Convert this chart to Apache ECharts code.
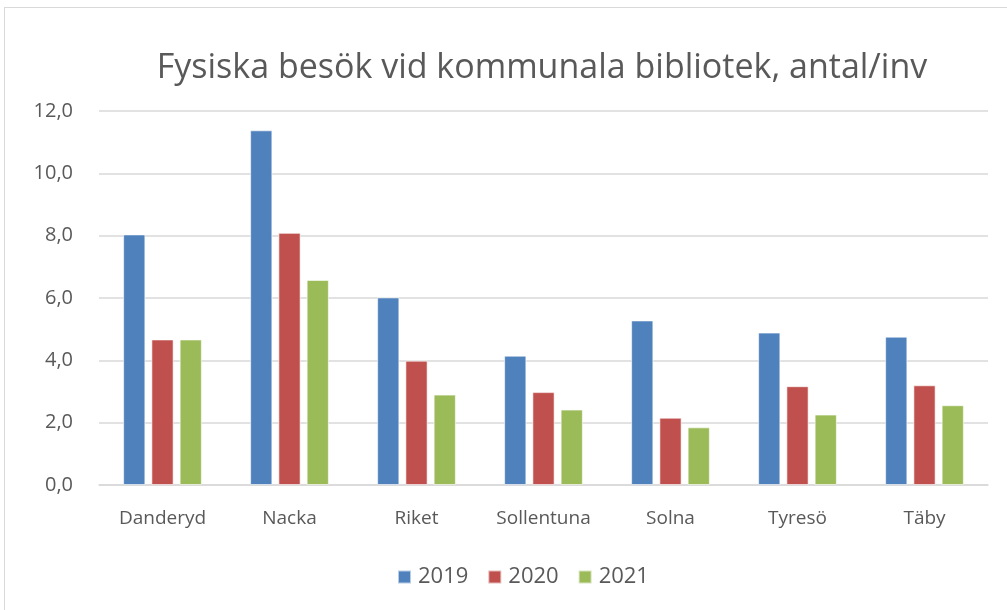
<!DOCTYPE html>
<html>
<head>
<meta charset="utf-8">
<script src="https://cdn.jsdelivr.net/npm/echarts@6/dist/echarts.min.js"></script>
<style>
  html, body { margin: 0; padding: 0; background: #fff; }
  .frame {
    position: absolute; left: 4px; top: 7px; width: 1010px; height: 610px;
    border: 1px solid #d9d9d9; box-sizing: border-box;
  }
  #chart { position: absolute; left: 0; top: 0; width: 1007px; height: 610px; }
</style>
</head>
<body>
<div class="frame"></div>
<div id="chart"></div>
<script>
const categories = ['Danderyd', 'Nacka', 'Riket', 'Sollentuna', 'Solna', 'Tyresö', 'Täby']
const values2019 = [8.04, 11.38, 6.02, 4.15, 5.28, 4.89, 4.76]
const values2020 = [4.67, 8.09, 3.99, 2.98, 2.16, 3.17, 3.20]
const values2021 = [4.67, 6.58, 2.90, 2.42, 1.85, 2.26, 2.56]
const yTicks = [0, 2, 4, 6, 8, 10, 12]

const chart = echarts.init(document.getElementById('chart'))
const font = '"Open Sans", "Noto Sans", sans-serif'

const barStyle = color => ({
  color: color,
  borderColor: 'rgba(255,255,255,0.6)',
  borderWidth: 1
})

chart.setOption({
  animation: false,
  title: {
    text: 'Fysiska besök vid kommunala bibliotek, antal/inv',
    left: 537,
    textAlign: 'center',
    top: 46,
    textStyle: { fontFamily: font, fontSize: 34, fontWeight: 'normal', color: '#595959' }
  },
  legend: {
    data: ['2019', '2020', '2021'],
    left: 392,
    top: 561,
    icon: 'rect',
    itemWidth: 13,
    itemHeight: 13,
    itemGap: 19,
    textStyle: { fontFamily: font, fontSize: 22, color: '#595959', padding: [0, 0, 0, 2] }
  },
  grid: { left: 99, right: 19, top: 111, bottom: 125 },
  xAxis: {
    type: 'category',
    data: categories,
    axisLine: { lineStyle: { color: '#d9d9d9', width: 1.5 } },
    axisTick: { show: false },
    axisLabel: { fontFamily: font, fontSize: 19, color: '#595959', margin: 24, interval: 0 }
  },
  yAxis: {
    type: 'value',
    min: yTicks[0],
    max: yTicks[yTicks.length - 1],
    interval: 2,
    axisLine: { show: false },
    axisTick: { show: false },
    splitLine: { lineStyle: { color: '#d9d9d9', width: 1.5 } },
    axisLabel: {
      fontFamily: font, fontSize: 20, color: '#595959', margin: 26,
      formatter: v => v.toFixed(1).replace('.', ',')
    }
  },
  series: [
    { name: '2019', type: 'bar', data: values2019, itemStyle: barStyle('#4f81bd'), barGap: '27%', barCategoryGap: '38%' },
    { name: '2020', type: 'bar', data: values2020, itemStyle: barStyle('#c0504d') },
    { name: '2021', type: 'bar', data: values2021, itemStyle: barStyle('#9bbb59') }
  ]
})
</script>
</body>
</html>
